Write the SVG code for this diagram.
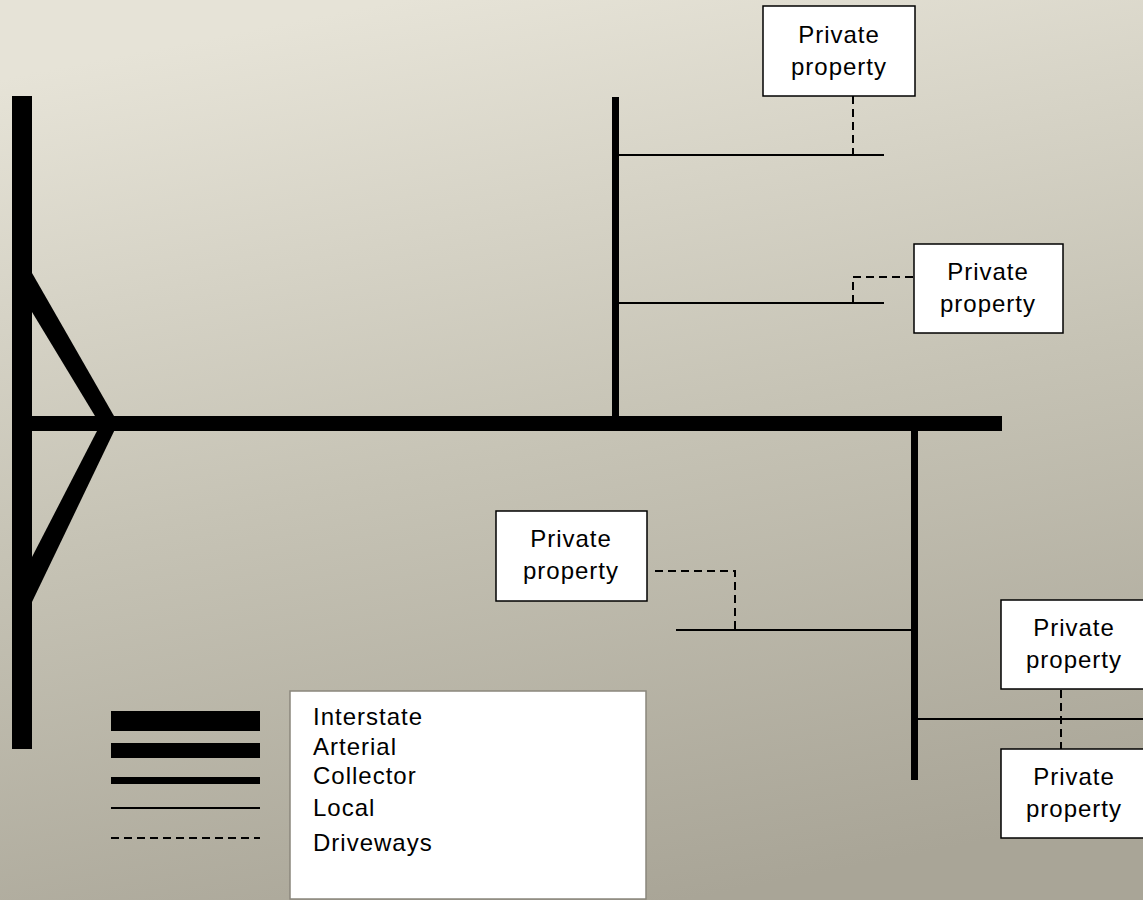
<svg xmlns="http://www.w3.org/2000/svg" width="1143" height="900" viewBox="0 0 1143 900">
  <defs>
    <linearGradient id="bg" x1="0.35" y1="0" x2="0.6" y2="1">
      <stop offset="0" stop-color="#e6e3d7"/>
      <stop offset="0.5" stop-color="#c6c3b5"/>
      <stop offset="1" stop-color="#a9a597"/>
    </linearGradient>
    <style>
      .road { fill: #000; }
      .local { stroke: #000; stroke-width: 2; fill: none; }
      .drive { stroke: #000; stroke-width: 2; fill: none; stroke-dasharray: 8 5; }
      .box { fill: #fff; stroke: #000; stroke-width: 1.5; }
      .lbl { font-family: "Liberation Sans", Arial, sans-serif; font-size: 24px; letter-spacing: 1px; fill: #000; }
      .mid { text-anchor: middle; }
    </style>
  </defs>
  <rect x="0" y="0" width="1143" height="900" fill="url(#bg)"/>

  <g id="roads">
    <!-- Interstate -->
    <rect class="road" x="12" y="96" width="20" height="653"/>
    <polygon class="road" points="32,273 118,423 95,416 32,312"/>
    <polygon class="road" points="32,602 118,423 97,431 32,557"/>
    <!-- Arterial -->
    <rect class="road" x="32" y="416" width="970" height="15"/>
    <!-- Collectors -->
    <rect class="road" x="612" y="97" width="7" height="319"/>
    <rect class="road" x="911" y="431" width="7" height="349"/>
    <!-- Locals -->
    <line class="local" x1="619" y1="155" x2="884" y2="155"/>
    <line class="local" x1="619" y1="303" x2="884" y2="303"/>
    <line class="local" x1="676" y1="630" x2="911" y2="630"/>
    <line class="local" x1="918" y1="719" x2="1143" y2="719"/>
  </g>

  <g id="connectors">
    <path class="drive" d="M853,96 V155"/>
    <path class="drive" d="M853,303 V277 H914"/>
    <path class="drive" d="M655,571 H735 V630"/>
    <path class="drive" d="M1061,690 V749"/>
  </g>

  <g id="node-pp1">
    <rect class="box" x="763" y="6" width="152" height="90"/>
    <text class="lbl mid" x="839" y="43">Private</text>
    <text class="lbl mid" x="839" y="75">property</text>
  </g>
  <g id="node-pp2">
    <rect class="box" x="914" y="244" width="149" height="89"/>
    <text class="lbl mid" x="988" y="280">Private</text>
    <text class="lbl mid" x="988" y="312">property</text>
  </g>
  <g id="node-pp3">
    <rect class="box" x="496" y="511" width="151" height="90"/>
    <text class="lbl mid" x="571" y="547">Private</text>
    <text class="lbl mid" x="571" y="579">property</text>
  </g>
  <g id="node-pp4">
    <rect class="box" x="1001" y="600" width="150" height="89"/>
    <text class="lbl mid" x="1074" y="636">Private</text>
    <text class="lbl mid" x="1074" y="668">property</text>
  </g>
  <g id="node-pp5">
    <rect class="box" x="1001" y="749" width="150" height="89"/>
    <text class="lbl mid" x="1074" y="785">Private</text>
    <text class="lbl mid" x="1074" y="817">property</text>
  </g>

  <g id="legend">
    <rect class="road" x="111" y="711" width="149" height="20"/>
    <rect class="road" x="111" y="743" width="149" height="15"/>
    <rect class="road" x="111" y="777" width="149" height="7"/>
    <line class="local" x1="111" y1="808" x2="260" y2="808"/>
    <line class="drive" x1="111" y1="838" x2="260" y2="838" stroke-dasharray="9 6"/>
    <rect x="290" y="691" width="356" height="208" fill="#fff" stroke="#8a877c" stroke-width="1.5"/>
    <text class="lbl" x="313" y="725">Interstate</text>
    <text class="lbl" x="313" y="755">Arterial</text>
    <text class="lbl" x="313" y="784">Collector</text>
    <text class="lbl" x="313" y="816">Local</text>
    <text class="lbl" x="313" y="851">Driveways</text>
  </g>
</svg>
